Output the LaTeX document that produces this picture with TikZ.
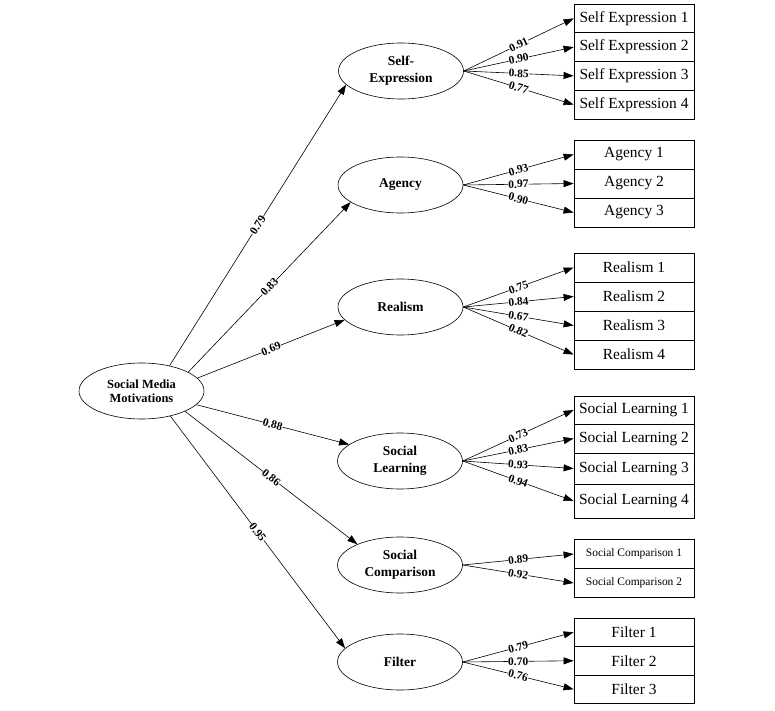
\documentclass[tikz,border=0pt]{standalone}
\usepackage{fontspec}
\setmainfont{Liberation Serif}
\usetikzlibrary{shapes.geometric,arrows.meta}
\begin{document}
\begin{tikzpicture}[x=1bp,y=-1bp,
 lat/.style={ellipse,draw,line width=0.6bp,minimum width=125bp,minimum height=56bp,inner sep=0pt,align=center,font=\bfseries\fontsize{13.5}{17}\selectfont},
 ind/.style={rectangle,draw,line width=0.8bp,minimum width=120bp,inner sep=0pt,font=\fontsize{15.5}{15.5}\selectfont},
 indsm/.style={ind,font=\fontsize{11.5}{12}\selectfont},
 arr/.style={-{Triangle[length=10bp,width=7bp]},line width=0.6bp},
 lab/.style={sloped,pos=0.5,fill=white,inner sep=0.2bp,font=\bfseries\fontsize{11.5}{11.5}\selectfont}]
\useasboundingbox[fill=white] (0,0) rectangle (775,711);

% latent variables
\node[lat,font=\bfseries\fontsize{12.5}{14.5}\selectfont] (smm) at (141.5,391) {Social Media\\Motivations};
\node[lat] (se) at (401,71) {Self-\\Expression};
\node[lat] (ag) at (400.5,185) {Agency};
\node[lat] (re) at (400.5,307) {Realism};
\node[lat] (sl) at (400,461) {Social\\Learning};
\node[lat] (sc) at (400,565) {Social\\Comparison};
\node[lat] (fi) at (400,662) {Filter};

% indicators
\node[ind,minimum height=28.75bp] (se1) at (634,18.4) {Self Expression 1};
\node[ind,minimum height=28.75bp] (se2) at (634,47.1) {Self Expression 2};
\node[ind,minimum height=28.75bp] (se3) at (634,75.9) {Self Expression 3};
\node[ind,minimum height=28.75bp] (se4) at (634,104.6) {Self Expression 4};

\node[ind,minimum height=29bp] (ag1) at (634,154.5) {Agency 1};
\node[ind,minimum height=29bp] (ag2) at (634,183.5) {Agency 2};
\node[ind,minimum height=29bp] (ag3) at (634,212.5) {Agency 3};

\node[ind,minimum height=29bp] (re1) at (634,267.5) {Realism 1};
\node[ind,minimum height=29bp] (re2) at (634,296.5) {Realism 2};
\node[ind,minimum height=29bp] (re3) at (634,325.5) {Realism 3};
\node[ind,minimum height=29bp] (re4) at (634,354.5) {Realism 4};

\node[ind,minimum height=28bp] (sl1) at (634,410) {Social Learning 1};
\node[ind,minimum height=29bp] (sl2) at (634,438.5) {Social Learning 2};
\node[ind,minimum height=31bp] (sl3) at (634,468.5) {Social Learning 3};
\node[ind,minimum height=34bp] (sl4) at (634,501) {Social Learning 4};

\node[indsm,minimum height=29bp] (sc1) at (634,554) {Social Comparison 1};
\node[indsm,minimum height=29bp] (sc2) at (634,583) {Social Comparison 2};

\node[ind,minimum height=28.5bp] (fi1) at (634,632.25) {Filter 1};
\node[ind,minimum height=28.5bp] (fi2) at (634,660.75) {Filter 2};
\node[ind,minimum height=28.5bp] (fi3) at (634,689.25) {Filter 3};

% structural paths
\draw[arr] (smm.42) -- node[lab] {0.79} (se.194);
\draw[arr] (smm.22) -- node[lab] {0.83} (ag.199);
\draw[arr] (smm.13) -- node[lab] {0.69} (re.193);
\draw[arr] (smm.-14) -- node[lab] {0.88} (sl.162);
\draw[arr] (smm.-25) -- node[lab] {0.86} (sc.154);
\draw[arr] (smm.-41) -- node[lab] {0.95} (fi.166);

% loadings
\draw[arr] (se.east) -- node[lab] {0.91} (se1.west);
\draw[arr] (se.east) -- node[lab] {0.90} (se2.west);
\draw[arr] (se.east) -- node[lab] {0.85} (se3.west);
\draw[arr] (se.east) -- node[lab] {0.77} (se4.west);

\draw[arr] (ag.east) -- node[lab] {0.93} (ag1.west);
\draw[arr] (ag.east) -- node[lab] {0.97} (ag2.west);
\draw[arr] (ag.east) -- node[lab] {0.90} (ag3.west);

\draw[arr] (re.east) -- node[lab] {0.75} (re1.west);
\draw[arr] (re.east) -- node[lab] {0.84} (re2.west);
\draw[arr] (re.east) -- node[lab] {0.67} (re3.west);
\draw[arr] (re.east) -- node[lab] {0.82} (re4.west);

\draw[arr] (sl.east) -- node[lab] {0.73} (sl1.west);
\draw[arr] (sl.east) -- node[lab] {0.83} (sl2.west);
\draw[arr] (sl.east) -- node[lab] {0.93} (sl3.west);
\draw[arr] (sl.east) -- node[lab] {0.94} (sl4.west);

\draw[arr] (sc.east) -- node[lab] {0.89} (sc1.west);
\draw[arr] (sc.east) -- node[lab] {0.92} (sc2.west);

\draw[arr] (fi.east) -- node[lab] {0.79} (fi1.west);
\draw[arr] (fi.east) -- node[lab] {0.70} (fi2.west);
\draw[arr] (fi.east) -- node[lab] {0.76} (fi3.west);
\end{tikzpicture}
\end{document}
